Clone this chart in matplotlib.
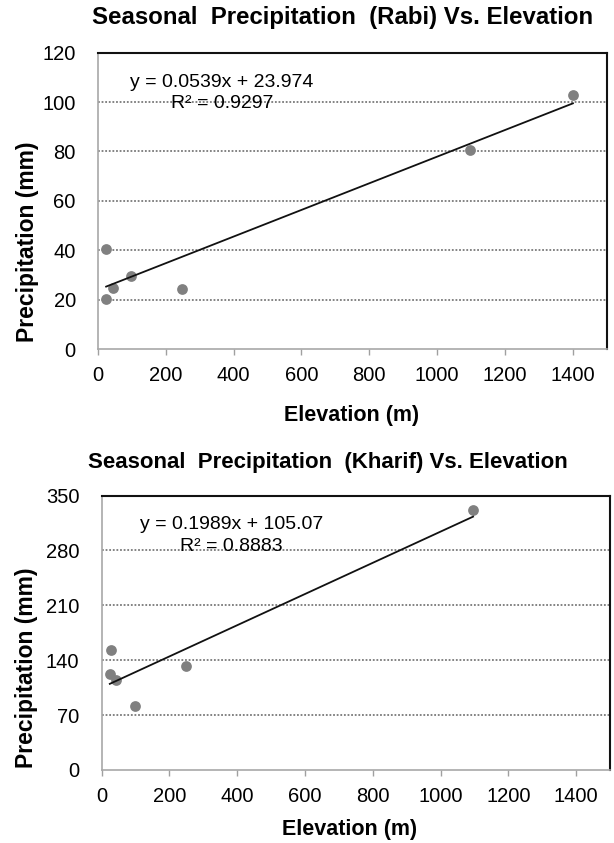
import matplotlib
matplotlib.use("Agg")
import matplotlib.pyplot as plt
import numpy as np

plt.rcParams['font.family'] = ['Liberation Sans', 'DejaVu Sans']

# ---- data ----
rabi_elev = [24, 24, 43, 98, 249, 1098, 1401]
rabi_precip = [40.3, 20.4, 24.9, 29.5, 24.4, 80.5, 103.0]
rabi_slope, rabi_icpt = 0.0539, 23.974
rabi_eq = "y = 0.0539x + 23.974"
rabi_r2 = "R² = 0.9297"

kharif_elev = [27, 24, 43, 98, 249, 1096]
kharif_precip = [153, 122.5, 115, 81, 132, 331.5]
kharif_slope, kharif_icpt = 0.1989, 105.07
kharif_eq = "y = 0.1989x + 105.07"
kharif_r2 = "R² = 0.8883"

x_ticks = [0, 200, 400, 600, 800, 1000, 1200, 1400]
rabi_yticks = [0, 20, 40, 60, 80, 100, 120]
kharif_yticks = [0, 70, 140, 210, 280, 350]

fig = plt.figure(figsize=(6.14, 8.43), dpi=100)

def make_panel(rect, elev, precip, slope, icpt, eq, r2, yticks, title,
               title_size, title_pos, xlabel_pos, ylabel_pos, eq_pos):
    ax = fig.add_axes(rect)
    ax.set_xlim(0, 1500)
    ax.set_ylim(yticks[0], yticks[-1])
    ax.set_xticks(x_ticks)
    ax.set_yticks(yticks)
    ax.tick_params(axis='x', direction='out', length=4, width=1, color='#a0a0a0',
                   labelsize=14.5, pad=8)
    ax.tick_params(axis='y', length=0, labelsize=14.5, pad=16)
    for t in yticks[1:-1]:
        ax.axhline(t, color='#7a7a7a', lw=1.3, ls=(0, (1, 1)), zorder=1)
    for s in ['left', 'bottom']:
        ax.spines[s].set_color('#a8a8a8')
        ax.spines[s].set_linewidth(1.2)
    for s in ['top', 'right']:
        ax.spines[s].set_color('#111111')
        ax.spines[s].set_linewidth(1.5)
    ax.scatter(elev, precip, s=60, color='#808080', zorder=3, linewidths=0)
    xs = np.array([min(elev), max(elev)])
    ax.plot(xs, slope * xs + icpt, color='#111111', lw=1.3, zorder=4)
    ax.text(eq_pos[0], eq_pos[1], eq, transform=ax.transAxes, ha='center',
            va='center', fontsize=14)
    ax.text(eq_pos[0], eq_pos[2], r2, transform=ax.transAxes, ha='center',
            va='center', fontsize=14)
    ax.set_title(title, fontsize=title_size, fontweight='bold', x=title_pos[0],
                 y=title_pos[1], va='center', pad=0)
    ax.set_xlabel("Elevation (m)", fontsize=15.5, fontweight='bold')
    ax.xaxis.set_label_coords(*xlabel_pos)
    ax.xaxis.label.set_va('center')
    ax.set_ylabel("Precipitation (mm)", fontsize=16.5, fontweight='bold')
    ax.yaxis.set_label_coords(*ylabel_pos)
    ax.yaxis.label.set_va('center')
    return ax

make_panel([0.1596, 0.586, 0.8282, 0.3515], rabi_elev, rabi_precip,
           rabi_slope, rabi_icpt, rabi_eq, rabi_r2, rabi_yticks,
           "Seasonal  Precipitation  (Rabi) Vs. Elevation", 17.25,
           (0.480, 1.12), (0.4995, -0.2228), (-0.1396, 0.361),
           (0.244, 0.898, 0.827))

make_panel([0.1656, 0.0866, 0.8279, 0.3256], kharif_elev, kharif_precip,
           kharif_slope, kharif_icpt, kharif_eq, kharif_r2, kharif_yticks,
           "Seasonal  Precipitation  (Kharif) Vs. Elevation", 16.0,
           (0.444, 1.12), (0.4885, -0.2186), (-0.147, 0.3716),
           (0.256, 0.896, 0.816))

fig.savefig("out.png", dpi=100)
